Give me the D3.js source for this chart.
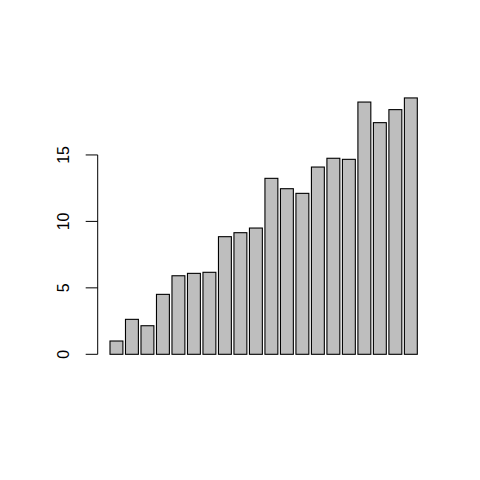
<!DOCTYPE html>
<html>
<head>
<meta charset="utf-8">
<script src="https://cdn.jsdelivr.net/npm/d3@7"></script>
<style>
  body { margin: 0; background: #fff; }
  svg { display: block; }
</style>
</head>
<body>
<script>
// bar heights, left to right
const values = [1.0, 2.63, 2.15, 4.51, 5.91, 6.09, 6.17, 8.85, 9.15, 9.50,
                13.24, 12.46, 12.11, 14.09, 14.75, 14.67, 18.98, 17.43, 18.41, 19.29];
const yTicks = [0, 5, 10, 15];

const barWidth = 1, space = 0.2; // barplot units

var svg = d3.select("body").append("svg").attr("width", 480).attr("height", 480);

// x in barplot units: bars go from 0.2 to 24.0, plus 4% either side
var x = d3.scaleLinear().domain([-0.752, 24.952]).range([97.7, 429.6]);
var y = d3.scaleLinear().domain([0, 20]).range([354.3, 88.5]);

svg.append("g").selectAll("rect")
  .data(values)
  .join("rect")
  .attr("x", (d, i) => x(space + i * (barWidth + space)))
  .attr("width", (d, i) => x(barWidth) - x(0))
  .attr("y", d => y(d))
  .attr("height", d => y(0) - y(d))
  .attr("fill", "#bebebe")
  .attr("stroke", "#000")
  .attr("stroke-width", 1.1);

// y axis, line only spans first to last tick like R does
var ax = svg.append("g").attr("transform", "translate(" + x(-0.752) + ",0)");
ax.append("line")
  .attr("y1", y(yTicks[0])).attr("y2", y(yTicks[yTicks.length - 1]))
  .attr("stroke", "#000");
ax.selectAll(".tick").data(yTicks).join("line")
  .attr("x1", 0).attr("x2", -12)
  .attr("y1", d => y(d)).attr("y2", d => y(d))
  .attr("stroke", "#000");
ax.selectAll("text").data(yTicks).join("text")
  .attr("transform", d => "translate(-29," + y(d) + ") rotate(-90)")
  .attr("text-anchor", "middle")
  .attr("font-family", "Liberation Sans, Arial, sans-serif")
  .attr("font-size", 16)
  .text(d => d);
</script>
</body>
</html>
